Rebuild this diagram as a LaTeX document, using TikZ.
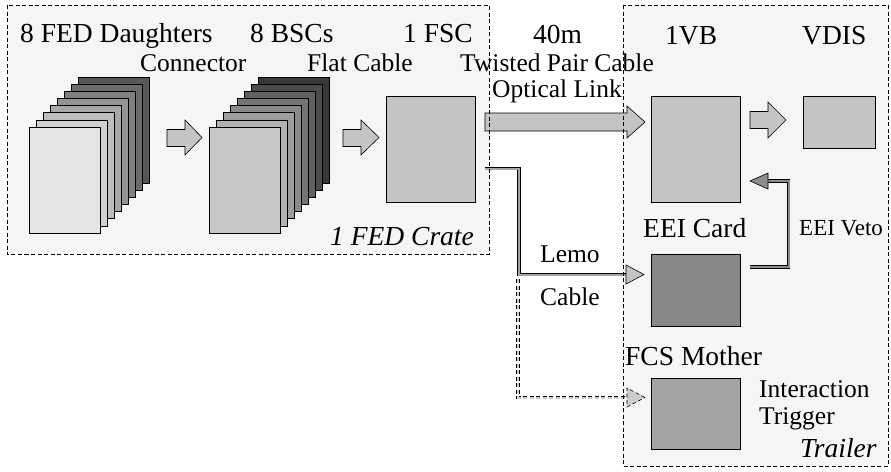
\documentclass[tikz,border=0pt]{standalone}
\usepackage{fontspec}
\setmainfont{Liberation Serif}
\newfontfamily\tms{Liberation Serif}
\usetikzlibrary{calc}
\begin{document}
\begin{tikzpicture}[x=1pt,y=-1pt,
  region/.style={draw=black, line width=0.6pt, dash pattern=on 4pt off 2.5pt},
  card/.style={draw=black, line width=0.7pt},
  box/.style={draw=black, line width=0.7pt, inner sep=0pt, anchor=north west},
  blk/.style={draw=black, line width=0.6pt, fill=black!23, line join=miter},
  dbl/.style={draw=black, line width=0.9pt, double distance=2pt, line join=miter},
  lab/.style={anchor=base west, inner sep=0pt},
  big/.style={lab, font=\tms\fontsize{27.5}{30}\selectfont},
  mid/.style={lab, font=\tms\fontsize{25.5}{28}\selectfont},
  sml/.style={lab, font=\tms\fontsize{23}{26}\selectfont}]
\useasboundingbox (0,0) rectangle (891,471);
\fill[white] (0,0) rectangle (891,471);
% region backgrounds
\fill[black!4] (7,5) rectangle (489,254);
\fill[black!4] (623,5) rectangle (888,466);
% card stacks
\foreach \i in {7,6,...,0}{
  \pgfmathsetmacro\ca{10+8*\i}
  \pgfmathsetmacro\cb{22+8*\i}
  \draw[card, fill=black!\ca] (29+7*\i,127-7.14*\i) rectangle ++(71,106);
  \draw[card, fill=black!\cb] (209+7*\i,127-7.14*\i) rectangle ++(71,106);
}
\node[box, fill=black!10, minimum width=71pt, minimum height=106pt] (fed) at (29,127) {};
\node[box, fill=black!22, minimum width=71pt, minimum height=106pt] (bsc) at (209,127) {};
% boxes
\node[box, fill=black!23, minimum width=89pt, minimum height=106pt] (fsc) at (386,96) {};
\node[box, fill=black!23, minimum width=89pt, minimum height=106pt] (vb) at (651,96) {};
\node[box, fill=black!23, minimum width=72pt, minimum height=52pt] (vdis) at (803,96) {};
\node[box, fill=black!47, minimum width=89pt, minimum height=72pt] (eei) at (651,254) {};
\node[box, fill=black!36, minimum width=89pt, minimum height=71pt] (fcs) at (651,378) {};
% block arrows
\draw[blk] (167,129.5) -- (185,129.5) -- (185,120) -- (202,137.5) -- (185,155) -- (185,146.5) -- (167,146.5) -- cycle;
\draw[blk] (343,129.5) -- (361,129.5) -- (361,120) -- (379,137.5) -- (361,155) -- (361,146.5) -- (343,146.5) -- cycle;
\draw[blk] (485,113) -- (627,113) -- (627,106) -- (645,122) -- (627,138) -- (627,131) -- (485,131) -- cycle;
\draw[blk] (750,111.5) -- (768,111.5) -- (768,102) -- (786,120) -- (768,138) -- (768,128.5) -- (750,128.5) -- cycle;
% connectors
\coordinate (l0) at (485,168.5);
\coordinate (l1) at (519,274.5);
\coordinate (lt) at (644,274.5);
\draw[dbl, double=black!35] (l0) -| (l1) -- ($(lt)+(-18,0)$);
\draw[blk] (lt) -- ++(-18,-9.5) -- ++(0,19) -- cycle;
\coordinate (v0) at (750,267);
\coordinate (v1) at (788.5,181);
\coordinate (vt) at (750,181);
\draw[dbl, double=black!45] (v0) -| (v1) -- ($(vt)+(18,0)$);
\draw[blk, fill=black!45] (vt) -- ++(18,-8) -- ++(0,16) -- cycle;
\coordinate (d0) at (518,279);
\coordinate (dt) at (645,397.5);
\draw[dbl, double=black!20, dash pattern=on 4pt off 2.5pt] (d0) |- ($(dt)+(-18,0)$);
\draw[blk, fill=black!20, dash pattern=on 4pt off 2.5pt] (dt) -- ++(-18,-9.5) -- ++(0,19) -- cycle;
% region borders
\draw[region] (7,5) rectangle (489,254);
\draw[region] (623,5) rectangle (888,466);
% labels
\node[big] (t1) at (20,42) {8 FED Daughters};
\node[big] (t2) at (250,42) {8 BSCs};
\node[big] (t3) at (403,42) {1 FSC};
\node[big] (t4) at (533,43) {40m};
\node[big] (t5) at (665,44) {1VB};
\node[big] (t6) at (802,44) {VDIS};
\node[mid] (t7) at (140,71) {Connector};
\node[mid] (t8) at (307,71) {Flat Cable};
\node[mid] (t9) at (460,71) {Twisted Pair Cable};
\node[mid] (t10) at (492,97) {Optical Link};
\node[big, font=\tms\fontsize{27.5}{30}\selectfont\itshape] (t11) at (330,245) {1 FED Crate};
\node[big] (t12) at (643,237) {EEI Card};
\node[sml] (t13) at (799,235) {EEI Veto};
\node[mid] (t14) at (540,262) {Lemo};
\node[mid] (t15) at (540,305) {Cable};
\node[big] (t16) at (625,365) {FCS Mother};
\node[mid] (t17) at (759,397) {Interaction};
\node[mid] (t18) at (759,424) {Trigger};
\node[big, font=\tms\fontsize{27.5}{30}\selectfont\itshape] (t19) at (800,457) {Trailer};
\end{tikzpicture}
\end{document}
